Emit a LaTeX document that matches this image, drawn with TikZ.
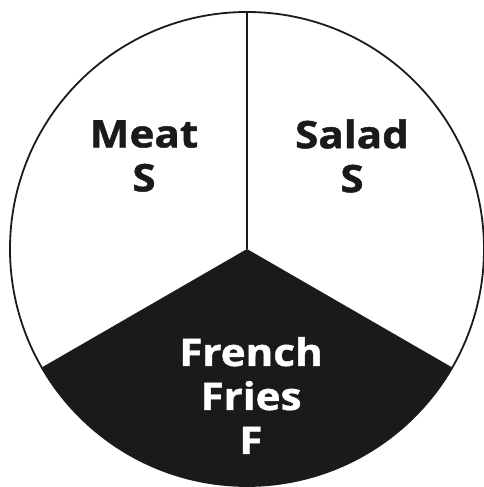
\documentclass[tikz,border=0pt]{standalone}
\usepackage{fontspec}
\setmainfont{Open Sans}[BoldFont={* Bold}, BoldFeatures={FakeStretch=1.11, FakeBold=1.2}]
\definecolor{ink}{HTML}{1A1A1A}
\begin{document}
\begin{tikzpicture}[x=1pt,y=1pt,
  label text/.style={inner sep=0pt, align=center, font=\fontsize{38}{44}\selectfont\bfseries},
  outline/.style={draw=ink, line width=1.8pt}]
\useasboundingbox (0,0) rectangle (484,487);
\coordinate (c) at (247,238);
\fill[ink] (c) -- ++(210:237) arc[start angle=210, end angle=330, radius=237] -- cycle;
\draw[outline] (c) circle[radius=237];
\draw[outline] (c) -- ++(90:237);
\node[label text, text=ink] (meat) at (144,331) {Meat\\S};
\node[label text, text=ink] (salad) at (352,331) {Salad\\S};
\node[label text, text=white] (fries) at (251,91.5) {French\\Fries\\F};
\end{tikzpicture}
\end{document}
